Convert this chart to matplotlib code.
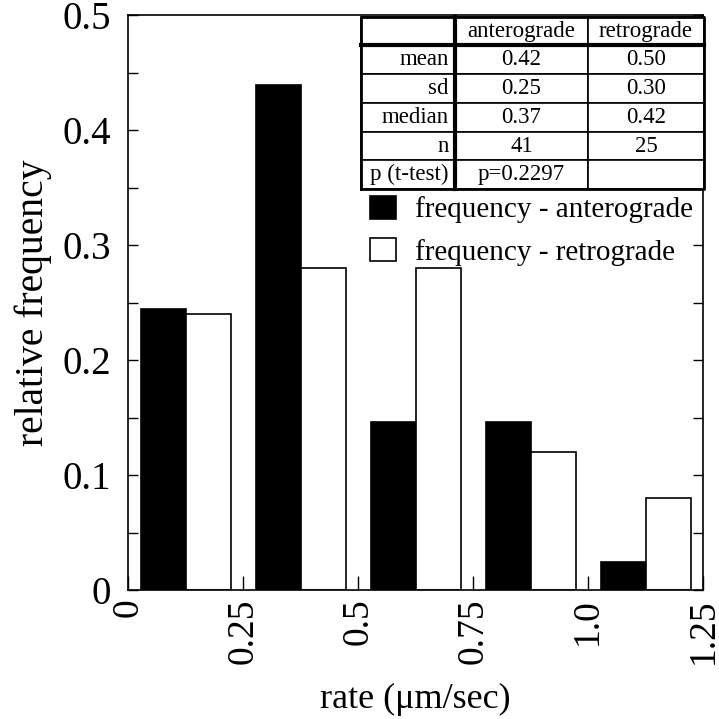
import matplotlib
matplotlib.use("Agg")
import matplotlib.pyplot as plt
import numpy as np

plt.rcParams['font.family'] = ['Liberation Serif', 'DejaVu Serif']

# histogram data (bins of 0.25 um/sec)
bin_starts = [0.0, 0.25, 0.5, 0.75, 1.0]
antero = [0.244, 0.439, 0.146, 0.146, 0.024]
retro = [0.24, 0.28, 0.28, 0.12, 0.08]

xticks = [0, 0.25, 0.5, 0.75, 1.0, 1.25]
xticklabels = ['0', '0.25', '0.5', '0.75', '1.0', '1.25']
yticks = [0, 0.1, 0.2, 0.3, 0.4, 0.5]
yticklabels = ['0', '0.1', '0.2', '0.3', '0.4', '0.5']

# summary table
col_labels = ['', 'anterograde', 'retrograde']
row_labels = ['mean', 'sd', 'median', 'n', 'p (t-test)']
antero_stats = ['0.42', '0.25', '0.37', '41', 'p=0.2297']
retro_stats = ['0.50', '0.30', '0.42', '25', '']

fig = plt.figure(figsize=(7.19, 7.19), dpi=100)
ax = fig.add_axes([128/719, 1 - 590/719, 575/719, 575/719])

w = 0.098
off = 0.028
xs = np.array(bin_starts)
b1 = ax.bar(xs + off, antero, width=w, align='edge', color='black',
            edgecolor='black', linewidth=1.2, label='frequency - anterograde')
b2 = ax.bar(xs + off + w, retro, width=w, align='edge', color='white',
            edgecolor='black', linewidth=1.2, label='frequency - retrograde')

ax.set_xlim(0, 1.25)
ax.set_ylim(0, 0.5)
ax.set_xticks(xticks)
ax.set_xticklabels(xticklabels, rotation=90, fontsize=27)
ax.set_yticks(yticks)
ax.set_yticklabels(yticklabels, fontsize=28)
ax.set_yticks(np.arange(0.05, 0.5, 0.1), minor=True)
ax.tick_params(axis='y', which='both', direction='in', right=True, pad=12)
ax.tick_params(axis='y', which='major', length=7, width=1)
ax.tick_params(axis='y', which='minor', length=7, width=1)
ax.tick_params(axis='x', direction='in', length=10, width=1, pad=6)
for s in ax.spines.values():
    s.set_linewidth(1.2)

ax.set_xlabel('rate (\u03bcm/sec)', fontsize=26, labelpad=14)
ax.set_ylabel('relative frequency', fontsize=28.5, labelpad=8)

tx0, ty0, tw, th = 0.406, 0.697, 0.596, 0.30
cells = [[r, a, b] for r, a, b in zip(row_labels, antero_stats, retro_stats)]
tab = ax.table(cellText=cells, colLabels=col_labels,
               colWidths=[0.274, 0.386, 0.340],
               bbox=[tx0, ty0, tw, th], zorder=5)
tab.auto_set_font_size(False)
tab.set_fontsize(16.5)
for (r, c), cell in tab.get_celld().items():
    cell.set_linewidth(1.2)
    cell.set_facecolor('white')
    if c == 0 and r > 0:
        cell.get_text().set_ha('right')
        cell.PAD = 0.07
    else:
        cell.get_text().set_ha('center')
# thick separators
ax.plot([tx0 + tw * 0.274] * 2, [ty0, ty0 + th], color='black', lw=3,
        transform=ax.transAxes, zorder=6, clip_on=False)
ax.plot([tx0, tx0 + tw], [ty0 + th * 5 / 6] * 2, color='black', lw=3,
        transform=ax.transAxes, zorder=6, clip_on=False)
ax.plot([tx0, tx0 + tw, tx0 + tw, tx0, tx0],
        [ty0, ty0, ty0 + th, ty0 + th, ty0],
        color='black', lw=2, transform=ax.transAxes, zorder=6, clip_on=False)

ax.legend(handles=[b1, b2], loc='upper left', bbox_to_anchor=(0.420, 0.686),
          frameon=False, fontsize=21, handlelength=0.92, handleheight=0.85,
          handletextpad=0.65, labelspacing=0.5, borderpad=0, borderaxespad=0)

fig.savefig('out.png', dpi=100)
